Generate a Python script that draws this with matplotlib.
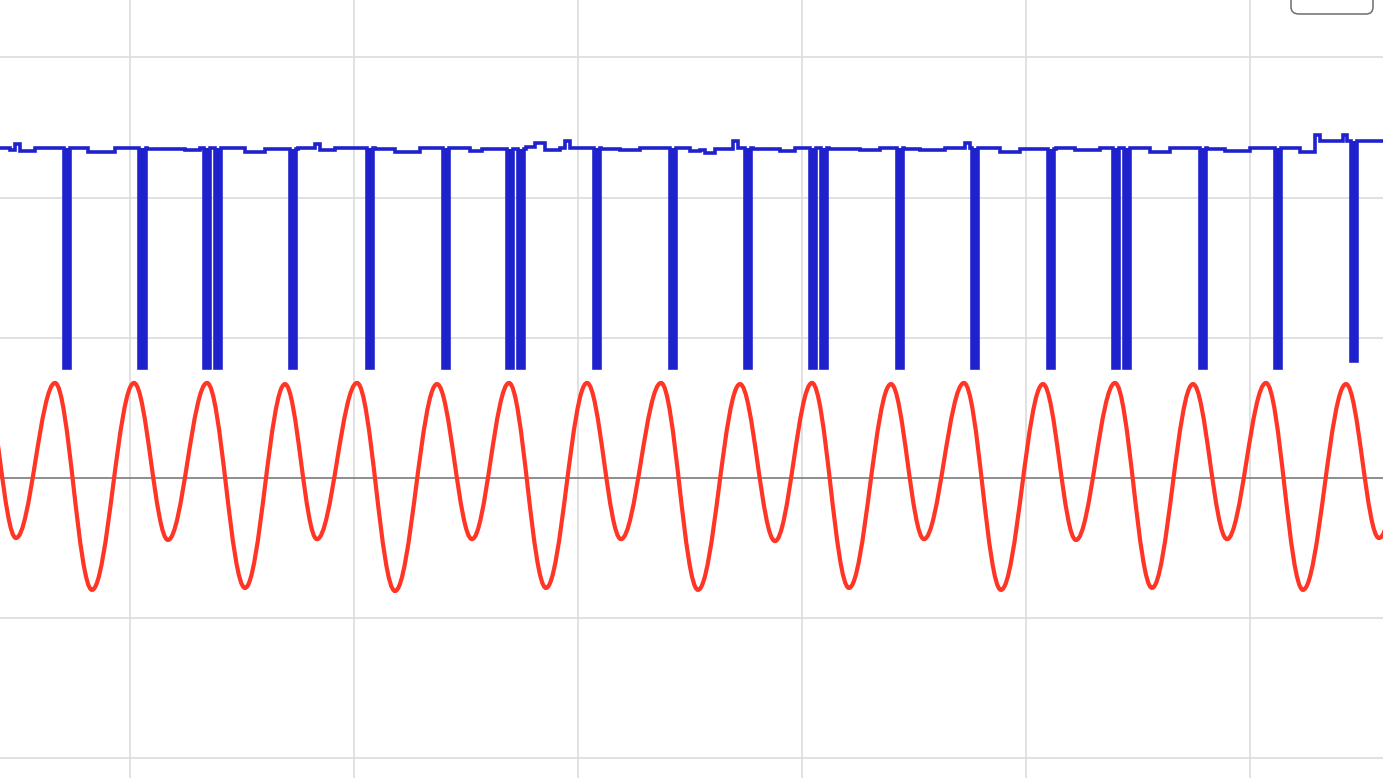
import numpy as np
import matplotlib
matplotlib.use("Agg")
import matplotlib.pyplot as plt
from matplotlib.path import Path
from matplotlib.patches import PathPatch
from matplotlib.lines import Line2D

# ---------------- data (time in s, amplitude in V) ----------------
# blue pulse trace: baseline step levels
base_t = [0.2098, 0.2321, 0.2433, 0.2545, 0.2879, 0.3705, 0.4063, 0.4665, 0.5379, 0.6228,
          0.6563, 0.7076, 0.7567, 0.8013, 0.8750, 0.9129, 0.9241, 0.9576, 0.9799, 1.0469,
          1.0915, 1.1473, 1.2165, 1.2589, 1.2857, 1.3839, 1.4040, 1.4263, 1.4598, 1.4710,
          1.4821, 1.5513, 1.5938, 1.6384, 1.7232, 1.7500, 1.7723, 1.7835, 1.8058, 1.8460,
          1.8571, 1.8906, 1.9509, 1.9844, 2.0603, 2.1295, 2.1741, 2.2277, 2.2634, 2.3192,
          2.3638, 2.3750, 2.4420, 2.4866, 2.5670, 2.6094, 2.6652, 2.7768, 2.8214, 2.9040,
          2.9442, 3.0000, 3.1116, 3.1451, 3.1563, 3.2076, 3.2165, 3.3200]
base_v = [1.176, 1.170, 1.191, 1.166, 1.176, 1.178, 1.164, 1.176, 1.173, 1.170,
          1.176, 1.178, 1.163, 1.173, 1.176, 1.191, 1.170, 1.176, 1.178, 1.173,
          1.164, 1.176, 1.178, 1.166, 1.173, 1.180, 1.194, 1.170, 1.176, 1.202,
          1.178, 1.173, 1.170, 1.176, 1.176, 1.166, 1.170, 1.160, 1.173, 1.202,
          1.178, 1.173, 1.166, 1.176, 1.173, 1.170, 1.176, 1.173, 1.170, 1.176,
          1.194, 1.176, 1.164, 1.173, 1.176, 1.170, 1.176, 1.164, 1.176, 1.173,
          1.166, 1.176, 1.164, 1.223, 1.202, 1.223, 1.202, 1.202]
# pulse (spike) centres, bottoms
spike_t = [0.3594, 0.5279, 0.6719, 0.6964, 0.8638, 1.0357, 1.2054, 1.3482, 1.3728, 1.5424,
           1.7121, 1.8795, 2.0246, 2.0491, 2.2188, 2.3862, 2.5558, 2.7009, 2.7254, 2.8951,
           3.0625, 3.2321]
spike_v = [0.392, 0.392, 0.392, 0.392, 0.392, 0.392, 0.392, 0.392, 0.392, 0.392,
           0.392, 0.392, 0.392, 0.392, 0.392, 0.392, 0.392, 0.392, 0.392, 0.392,
           0.392, 0.417]
spike_width = 0.0150

# red sine-like trace: successive extrema (peak / trough)
red_t = [0.1741, 0.2455, 0.3326, 0.4152, 0.5089, 0.5848, 0.6719, 0.7567, 0.8460, 0.9174,
         1.0067, 1.0915, 1.1853, 1.2634, 1.3460, 1.4286, 1.5201, 1.5960, 1.6853, 1.7679,
         1.8616, 1.9397, 2.0223, 2.1049, 2.1987, 2.2723, 2.3616, 2.4442, 2.5379, 2.6116,
         2.6987, 2.7813, 2.8728, 2.9487, 3.0357, 3.1183, 3.2143, 3.2879, 3.3795]
red_v = [0.339, -0.214, 0.339, -0.399, 0.339, -0.221, 0.339, -0.392, 0.335, -0.218,
         0.339, -0.403, 0.335, -0.218, 0.339, -0.392, 0.339, -0.218, 0.339, -0.399,
         0.335, -0.225, 0.339, -0.392, 0.335, -0.218, 0.339, -0.399, 0.335, -0.221,
         0.339, -0.392, 0.335, -0.218, 0.339, -0.399, 0.335, -0.214, 0.339]

labels = ["Pulse", "Sine"]

BLUE = "#1f22cc"
RED = "#ff3526"

# ---------------- figure ----------------
fig = plt.figure(figsize=(13.83, 7.78), dpi=100)
ax = fig.add_axes([0, 0, 1, 1])
ax.set_xlim(0.2098, 3.2969)
ax.set_ylim(-1.0699, 1.7047)
for s in ax.spines.values():
    s.set_visible(False)
ax.set_xticks(np.arange(0.5, 3.01, 0.5))
ax.set_yticks(np.arange(-1.0, 1.51, 0.5))
ax.tick_params(length=0, labelbottom=False, labelleft=False)
ax.grid(True, color="#dcdcdc", linewidth=1.2)
ax.set_axisbelow(True)
ax.axhline(0, color="#808080", linewidth=1.2, zorder=1)

# blue pulse trace built from baseline steps + pulses
bt = np.array(base_t)
bv = np.array(base_v)
st = np.array(spike_t)
sv = np.array(spike_v)
starts = st - spike_width / 2
ends = st + spike_width / 2
times = np.unique(np.concatenate([bt, starts, ends]))
vals = []
levels = []
for t in times:
    i = np.searchsorted(bt, t, side="right") - 1
    lvl = bv[max(i, 0)]
    levels.append(lvl)
    inside = (t >= starts) & (t < ends)
    vals.append(sv[inside][0] if inside.any() else lvl)
vals = np.array(vals)
levels = np.array(levels)
ax.fill_between(times, vals, levels, step="post", color=BLUE, linewidth=0, zorder=3)
ax.plot(times, vals, drawstyle="steps-post", color=BLUE, linewidth=2.6,
        solid_joinstyle="miter", zorder=3)

# red trace: smooth cubic segments between the read extrema
k = 0.364
verts = [(red_t[0], red_v[0])]
codes = [Path.MOVETO]
for i in range(len(red_t) - 1):
    x0, y0, x1, y1 = red_t[i], red_v[i], red_t[i + 1], red_v[i + 1]
    dx = x1 - x0
    verts += [(x0 + k * dx, y0), (x1 - k * dx, y1), (x1, y1)]
    codes += [Path.CURVE4] * 3
ax.add_patch(PathPatch(Path(verts, codes), facecolor="none", edgecolor=RED,
                       linewidth=3.0, zorder=3))

handles = [Line2D([], [], color=BLUE, lw=2.6), Line2D([], [], color=RED, lw=3.0)]
leg = ax.legend(handles, labels, loc="lower right", bbox_to_anchor=(1373 / 1383, 1 - 14 / 778),
                bbox_transform=ax.transAxes, borderaxespad=0, fontsize=9, framealpha=1,
                fancybox=True, edgecolor="#6e6e6e", borderpad=1.4, handlelength=0.7,
                handletextpad=0.4)
leg.get_frame().set_linewidth(1.1)
leg.get_frame().set_boxstyle("round", pad=0, rounding_size=0.6)

fig.savefig("out.png", dpi=100)
